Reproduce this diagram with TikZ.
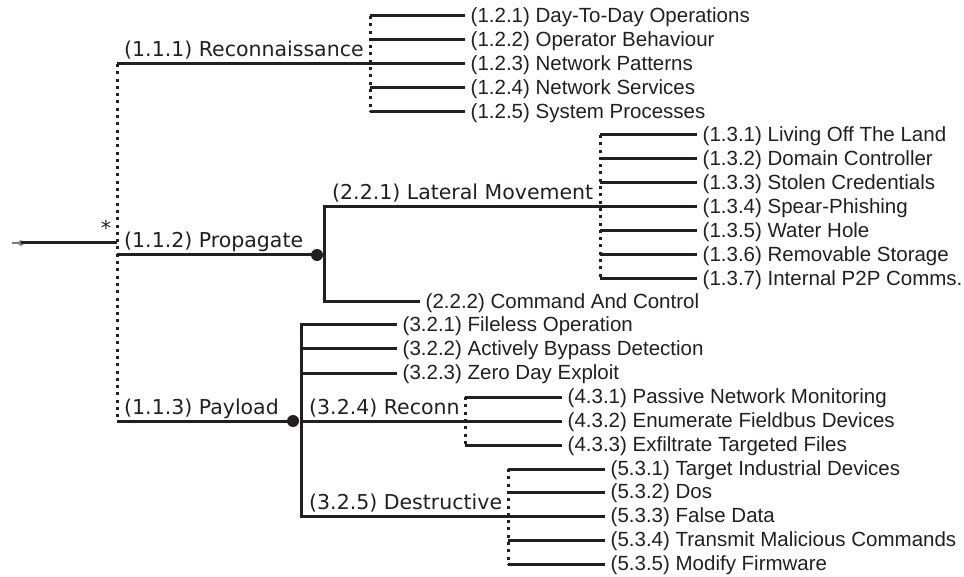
\documentclass[tikz,border=0pt]{standalone}
\usepackage{fontspec}
\newfontfamily\featfont{DejaVu Sans}
\newfontfamily\leaffont{Liberation Sans}
\newcommand\lblsize{\fontsize{20.5}{24}\selectfont}
\definecolor{ink}{HTML}{231F20}

\begin{document}
\begin{tikzpicture}[x=1pt,y=-1pt,
  ln/.style={draw=ink,line width=3pt},
  orbar/.style={draw=ink,line width=3pt,dash pattern=on 3pt off 4.3pt},
  leaf/.style={anchor=west,inner xsep=5.5pt,inner ysep=0pt,yshift=-1.5pt,text=ink,font=\leaffont\lblsize},
  feat/.style={anchor=base west,inner sep=0pt,text=ink,font=\featfont\lblsize},
  andpt/.style={circle,fill=ink,inner sep=0pt,minimum size=12pt}]
\useasboundingbox (0,0) rectangle (964,577);
% root and its or-bar
\coordinate (root) at (21,243);
\coordinate (orroot) at (117,243);
\draw[gray,line width=1.6pt] (12,243) -- (root);
\fill[gray] (root) circle (2.8pt);
\draw[ln] (root) -- (orroot);
\node[text=ink,font=\featfont\lblsize,inner sep=0pt] (star) at (106,228) {*};
\coordinate (f111) at (117,64);
\coordinate (f112) at (117,255);
\coordinate (f113) at (117,421);
\draw[orbar] (f111) -- (f113);
% (1.1.1)
\coordinate (g12) at (370,64);
\draw[ln] (f111) -- (g12);
\node[feat] (t111) at (124,57) {(1.1.1) Reconnaissance};
\draw[orbar] (370,16) -- (370,112);
\foreach \y/\t [count=\i] in {16/Day-To-Day Operations,40/Operator Behaviour,
    64/Network Patterns,88/Network Services,112/System Processes}{
  \coordinate (e12\i) at (465,\y);
  \node[leaf] (l12\i) at (e12\i) {(1.2.\i) \t};
  \draw[ln] (g12 |- e12\i) -- (e12\i);
}
% (1.1.2)
\node[andpt] (a112) at (317,255) {};
\draw[ln] (f112) -- (a112.center);
\node[feat] (t112) at (124,248) {(1.1.2) Propagate};
\coordinate (f221) at (324,207);
\coordinate (g13) at (600,207);
\coordinate (e222) at (420,302);
\node[leaf] (l222) at (e222) {(2.2.2) Command And Control};
\draw[ln] (g13) -- (f221) -- (f221 |- e222) -- (e222);
\node[feat] (t221) at (332,200) {(2.2.1) Lateral Movement};
\draw[orbar] (600,135) -- (600,279);
\foreach \y/\t [count=\i] in {135/Living Off The Land,159/Domain Controller,
    183/Stolen Credentials,207/Spear-Phishing,231/Water Hole,
    255/Removable Storage,279/Internal P2P Comms.}{
  \coordinate (e13\i) at (697,\y);
  \node[leaf] (l13\i) at (e13\i) {(1.3.\i) \t};
  \draw[ln] (g13 |- e13\i) -- (e13\i);
}
% (1.1.3)
\node[andpt] (a113) at (293,421) {};
\draw[ln] (f113) -- (a113.center);
\node[feat] (t113) at (124,414) {(1.1.3) Payload};
\coordinate (f32) at (301,325);
\coordinate (g43) at (465,421);
\coordinate (g53) at (508,516);
\foreach \y/\t [count=\i] in {325/Fileless Operation,349/Actively Bypass Detection,
    373/Zero Day Exploit}{
  \coordinate (e32\i) at (397,\y);
  \node[leaf] (l32\i) at (e32\i) {(3.2.\i) \t};
}
\draw[ln] (e321) -- (f32) -- (f32 |- g53) -- (g53);
\draw[ln] (f32 |- e322) -- (e322);
\draw[ln] (f32 |- e323) -- (e323);
\draw[ln] (f32 |- g43) -- (g43);
\node[feat] (t324) at (309,414) {(3.2.4) Reconn};
\node[feat] (t325) at (309,509) {(3.2.5) Destructive};
% (3.2.4)
\draw[orbar] (465,397) -- (465,445);
\foreach \y/\t [count=\i] in {397/Passive Network Monitoring,
    421/Enumerate Fieldbus Devices,445/Exfiltrate Targeted Files}{
  \coordinate (e43\i) at (562,\y);
  \node[leaf] (l43\i) at (e43\i) {(4.3.\i) \t};
  \draw[ln] (g43 |- e43\i) -- (e43\i);
}
% (3.2.5)
\draw[orbar] (508,469) -- (508,564);
\foreach \y/\t [count=\i] in {469/Target Industrial Devices,492/Dos,
    516/False Data,540/Transmit Malicious Commands,564/Modify Firmware}{
  \coordinate (e53\i) at (605,\y);
  \node[leaf] (l53\i) at (e53\i) {(5.3.\i) \t};
  \draw[ln] (g53 |- e53\i) -- (e53\i);
}
\end{tikzpicture}
\end{document}
